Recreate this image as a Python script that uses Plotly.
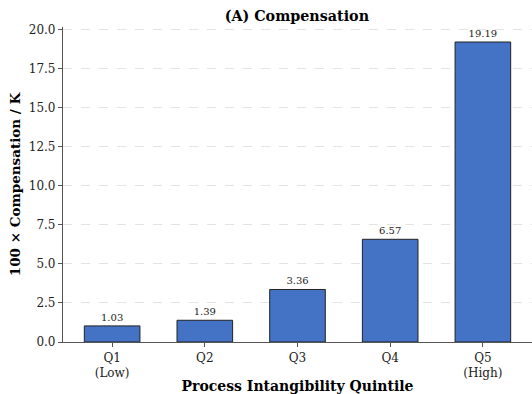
import plotly.graph_objects as go

categories = ["Q1<br>(Low)", "Q2", "Q3", "Q4", "Q5<br>(High)"]
values = [1.03, 1.39, 3.36, 6.57, 19.19]
labels = ["1.03", "1.39", "3.36", "6.57", "19.19"]
yticks = [0.0, 2.5, 5.0, 7.5, 10.0, 12.5, 15.0, 17.5, 20.0]
ytick_text = ["0.0", "2.5", "5.0", "7.5", "10.0", "12.5", "15.0", "17.5", "20.0"]

FONT = "DejaVu Serif"

fig = go.Figure()
fig.add_trace(go.Bar(
    x=list(range(len(categories))),
    y=values,
    width=0.6,
    marker=dict(color="#4472C4", line=dict(color="#222222", width=1)),
    text=labels,
    textposition="outside",
    textfont=dict(family=FONT, size=10, color="#222222"),
    cliponaxis=False,
))

fig.update_layout(
    width=532, height=394,
    margin=dict(l=63, r=0, t=27, b=52),
    paper_bgcolor="white", plot_bgcolor="white",
    font=dict(family=FONT, color="#222222"),
    showlegend=False,
    bargap=0.4,
    title=dict(text="<b>(A) Compensation</b>", x=0.558, xanchor="center",
               y=0.96, yanchor="middle", font=dict(family=FONT, size=14.3, color="black")),
    xaxis=dict(
        range=[-0.53, 4.53], automargin=False,
        tickmode="array", tickvals=list(range(len(categories))), ticktext=categories,
        showline=True, linecolor="#555555", linewidth=1.2,
        ticks="outside", ticklen=4, tickcolor="#555555",
        showgrid=False, zeroline=False,
        tickfont=dict(family=FONT, size=12, color="#222222"),
        title=dict(text="<b>Process Intangibility Quintile</b>", standoff=10,
                   font=dict(family=FONT, size=14, color="black")),
    ),
    yaxis=dict(
        range=[0, 20.15], automargin=False,
        tickmode="array", tickvals=yticks, ticktext=ytick_text,
        showline=True, linecolor="#555555", linewidth=1.2,
        ticks="outside", ticklen=4, tickcolor="#555555",
        showgrid=True, gridcolor="#e3e3e3", griddash="dash", gridwidth=1,
        zeroline=False,
        tickfont=dict(family=FONT, size=12, color="#222222"),
        title=dict(text="<b>100 × Compensation / K</b>", standoff=5,
                   font=dict(family=FONT, size=13.5, color="black")),
    ),
)

fig.write_html("out.html", config={"displayModeBar": False},
               post_script="document.body.style.margin='0';document.body.style.overflow='hidden';")
